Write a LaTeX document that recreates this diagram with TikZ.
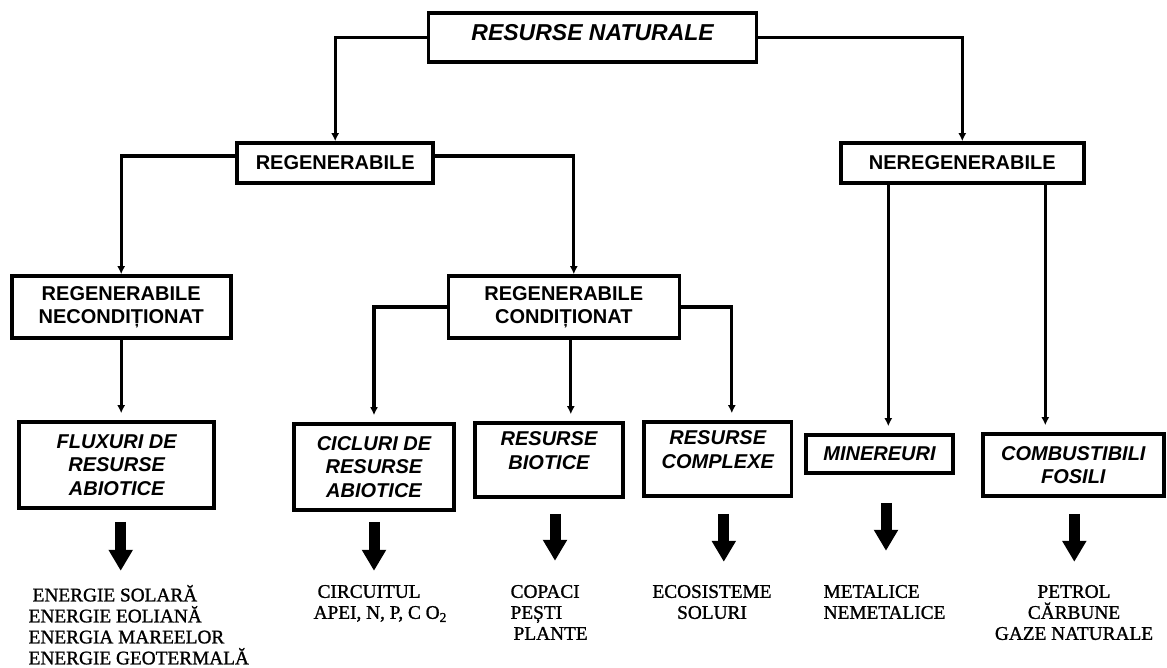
\documentclass[tikz,border=0pt]{standalone}
\usepackage{fontspec}
\setmainfont{Liberation Serif}
\setsansfont{Liberation Sans}
\newfontfamily\listfont{Liberation Serif}[FakeBold=1.2]
\usetikzlibrary{arrows.meta}

\begin{document}
\begin{tikzpicture}[x=1pt,y=-1pt,line width=3.3pt,
		box/.style={draw,rectangle,line width=3.6pt,inner sep=0pt,align=center,
			font=\sffamily\bfseries\fontsize{20}{23.5}\selectfont},
		leaf/.style={box,font=\sffamily\bfseries\itshape\fontsize{20}{23.5}\selectfont},
		top/.style={draw,rectangle,line width=3.6pt,inner sep=0pt,text height=16.5pt,text depth=12pt,
			font=\sffamily\bfseries\itshape\fontsize{23}{27}\selectfont},
		list/.style={inner sep=0pt,font=\listfont\fontsize{19.3}{21}\selectfont,
			execute at begin node={\rule{0pt}{18pt}}},
		link/.style={-{Latex[length=8pt,width=8pt]}},
		linkgap/.style={link,shorten >=7pt},
		bigarrow/.style={line width=11pt,-{Triangle[length=21pt,width=23pt]}}]
	\useasboundingbox (0,0) rectangle (1167,668);
	\node[top,minimum width=328pt,minimum height=49pt] (res) at (592.6,37.8) {RESURSE NATURALE};
	\node[box,minimum width=196pt,minimum height=40pt] (reg) at (335.2,163) {REGENERABILE};
	\node[box,minimum width=243pt,minimum height=40pt] (nereg) at (962.3,163) {NEREGENERABILE};
	\node[box,minimum width=219pt,minimum height=62pt] (regn) at (121.2,307) {REGENERABILE\\NECONDIȚIONAT};
	\node[box,minimum width=231pt,minimum height=62pt] (regc) at (563.8,307) {REGENERABILE\\CONDIȚIONAT};
	\node[leaf,minimum width=195pt,minimum height=86pt] (flux) at (116.7,465) {FLUXURI DE\\RESURSE\\ABIOTICE};
	\node[leaf,minimum width=160pt,minimum height=86pt] (cicl) at (374,467) {CICLURI DE\\RESURSE\\ABIOTICE};
	\node[leaf,minimum width=148pt,minimum height=74pt] (biot) at (549,460) {RESURSE\\BIOTICE\\[-5pt]\mbox{}};
	\node[leaf,minimum width=147.5pt,minimum height=74pt] (compl) at (717.8,459) {RESURSE\\COMPLEXE\\[-5pt]\mbox{}};
	\node[leaf,minimum width=147pt,minimum height=38pt] (min) at (879.5,454) {MINEREURI};
	\node[leaf,minimum width=181pt,minimum height=62pt] (comb) at (1073.3,465) {COMBUSTIBILI\\FOSILI};

	\node[list,anchor=north west,align=left] (ener) at (27,583.4) {\hspace*{4pt}ENERGIE SOLARĂ\\ENERGIE EOLIANĂ\\ENERGIA MAREELOR\\ENERGIE GEOTERMALĂ};
	\node[list,anchor=north west,align=left] (circ) at (312,583.4) {\hspace*{4pt}CIRCUITUL\\APEI, N, P, C O\textsubscript{2}};
	\node[list,anchor=north west,align=left] (bio) at (509,583.4) {COPACI\\PEȘTI\\\hspace*{3pt}PLANTE};
	\node[list,anchor=north,align=center] (eco) at (712,583.4) {ECOSISTEME\\SOLURI};
	\node[list,anchor=north west,align=left] (met) at (822,583.4) {METALICE\\NEMETALICE};
	\node[list,anchor=north,align=center] (fos) at (1074,583.4) {PETROL\\CĂRBUNE\\GAZE NATURALE};

	\draw[link] (res.west) -| (reg.north);
	\draw[link] (res.east) -| (nereg.north);
	\draw[link] ([yshift=7pt]reg.west) -| (regn.north);
	\draw[link] ([yshift=7pt]reg.east) -| ([xshift=10pt]regc.north);
	\draw[linkgap] (regn.south) -- (regn.south |- flux.north);
	\draw[linkgap] (regc.west) -| (cicl.north);
	\draw[linkgap] ([xshift=7pt]regc.south) -- ([xshift=7pt]regc.south |- biot.north);
	\draw[linkgap] (regc.east) -| ([xshift=14pt]compl.north);
	\draw[linkgap] ([xshift=-74pt]nereg.south) -- ([xshift=-74pt]nereg.south |- min.north);
	\draw[linkgap] ([xshift=83pt]nereg.south) -- ([xshift=83pt]nereg.south |- comb.north);

	\draw[bigarrow] ([shift={(4,12)}]flux.south) -- ++(0,49);
	\draw[bigarrow] ([shift={(0,10)}]cicl.south) -- ++(0,49);
	\draw[bigarrow] ([shift={(6,15)}]biot.south) -- ++(0,47);
	\draw[bigarrow] ([shift={(6,16)}]compl.south) -- ++(0,48);
	\draw[bigarrow] ([shift={(6.5,28)}]min.south) -- ++(0,48);
	\draw[bigarrow] ([shift={(1,16)}]comb.south) -- ++(0,48);
\end{tikzpicture}
\end{document}
